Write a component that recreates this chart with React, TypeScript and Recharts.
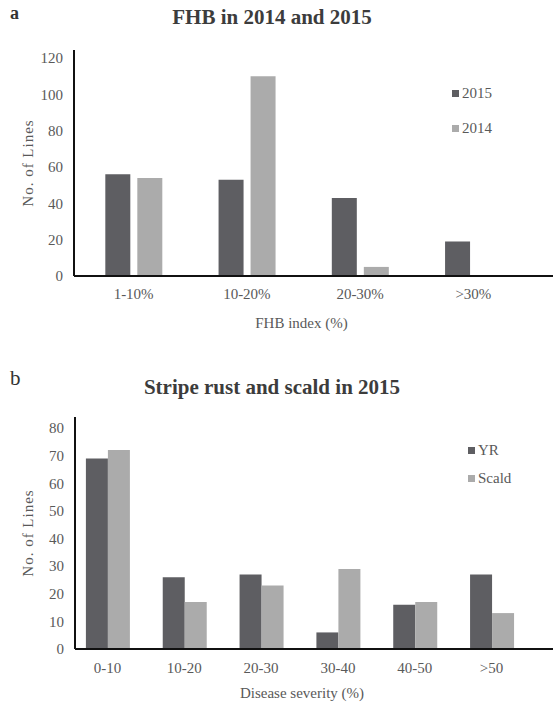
import { Bar, BarChart, XAxis, YAxis } from "recharts";

const fhbCategories = ["1-10%", "10-20%", "20-30%", ">30%"];
const fhb2015 = [56, 53, 43, 19];
const fhb2014 = [54, 110, 5, 0];
const fhbTicks = [0, 20, 40, 60, 80, 100, 120];

const severityCategories = ["0-10", "10-20", "20-30", "30-40", "40-50", ">50"];
const yrValues = [69, 26, 27, 6, 16, 27];
const scaldValues = [72, 17, 23, 29, 17, 13];
const severityTicks = [0, 10, 20, 30, 40, 50, 60, 70, 80];

const DARK = "#5e5e62";
const LIGHT = "#ababab";
const TEXT = "#595959";
const FONT = "Liberation Serif";

const fhbData = fhbCategories.map((name, i) => ({ name, y2015: fhb2015[i], y2014: fhb2014[i] }));
const severityData = severityCategories.map((name, i) => ({ name, yr: yrValues[i], scald: scaldValues[i] }));

function LegendBox({ items, gap, left, top }: { items: { label: string; color: string }[]; gap: number; left: number; top: number }) {
  return (
    <div style={{ position: "absolute", left, top, fontFamily: FONT, fontSize: 15, color: TEXT }}>
      {items.map((it) => (
        <div key={it.label} style={{ display: "flex", alignItems: "center", height: gap }}>
          <span style={{ width: 7, height: 7, background: it.color, marginRight: 3, display: "inline-block" }} />
          {it.label}
        </div>
      ))}
    </div>
  );
}

const tickStyle = { fill: TEXT, fontSize: 15, fontFamily: FONT };
const labelStyle = { fill: TEXT, fontSize: 15, fontFamily: FONT };
const yLabelStyle = { fill: TEXT, fontSize: 15, fontFamily: FONT, letterSpacing: 1 };

export default function App() {
  return (
    <div style={{ position: "absolute", left: 0, top: 0, width: 553, height: 703, background: "#fff", fontFamily: FONT, overflow: "hidden" }}>
      <div style={{ position: "absolute", left: 10, top: 3, fontSize: 18, fontWeight: "bold", color: "#333" }}>a</div>
      <div style={{ position: "absolute", left: 0, width: 553, top: 5, textAlign: "center", fontSize: 21, fontWeight: "bold", color: "#3c3c3c" }}>
        <span style={{ marginLeft: -9 }}>FHB in 2014 and 2015</span>
      </div>
      <div style={{ position: "absolute", left: 0, top: 0 }}>
        <BarChart width={553} height={340} data={fhbData} margin={{ top: 50, right: 0, bottom: 12, left: 24 }} barCategoryGap="25%" barGap={7}>
          <XAxis
            dataKey="name"
            padding={{ left: 3, right: 23 }}
            height={52}
            tickLine={false}
            tickSize={0}
            tickMargin={12}
            axisLine={{ stroke: "#111", strokeWidth: 2 }}
            tick={tickStyle}
            label={{ value: "FHB index (%)", position: "insideBottom", offset: 0, dx: -12, style: labelStyle }}
          />
          <YAxis
            width={50}
            domain={[0, 120]}
            ticks={fhbTicks}
            padding={{ top: 8, bottom: 0 }}
            tickLine={false}
            tickSize={0}
            tickMargin={11}
            axisLine={{ stroke: "#111", strokeWidth: 2 }}
            tick={tickStyle}
            label={{ value: "No. of Lines", angle: -90, position: "center", dx: -21, style: yLabelStyle }}
          />
          <Bar dataKey="y2015" name="2015" fill={DARK} isAnimationActive={false} />
          <Bar dataKey="y2014" name="2014" fill={LIGHT} isAnimationActive={false} />
        </BarChart>
      </div>
      <LegendBox left={452} top={76} gap={35} items={[{ label: "2015", color: DARK }, { label: "2014", color: LIGHT }]} />

      <div style={{ position: "absolute", left: 10, top: 366, fontSize: 21, color: "#333" }}>b</div>
      <div style={{ position: "absolute", left: 0, width: 553, top: 375, textAlign: "center", fontSize: 21, fontWeight: "bold", color: "#3c3c3c" }}>
        <span style={{ marginLeft: -9 }}>Stripe rust and scald in 2015</span>
      </div>
      <div style={{ position: "absolute", left: 0, top: 360 }}>
        <BarChart width={553} height={343} data={severityData} margin={{ top: 57, right: 0, bottom: 0, left: 25 }} barCategoryGap="22%" barGap={0}>
          <XAxis
            dataKey="name"
            padding={{ left: -6, right: 23 }}
            height={54}
            tickLine={false}
            tickSize={0}
            tickMargin={13}
            axisLine={{ stroke: "#111", strokeWidth: 2 }}
            tick={tickStyle}
            label={{ value: "Disease severity (%)", position: "insideBottom", offset: 0, dy: -5, dx: -12, style: labelStyle }}
          />
          <YAxis
            width={50}
            domain={[0, 80]}
            ticks={severityTicks}
            padding={{ top: 11, bottom: 0 }}
            tickLine={false}
            tickSize={0}
            tickMargin={11}
            axisLine={{ stroke: "#111", strokeWidth: 2 }}
            tick={tickStyle}
            label={{ value: "No. of Lines", angle: -90, position: "center", dx: -22, style: yLabelStyle }}
          />
          <Bar dataKey="yr" name="YR" fill={DARK} isAnimationActive={false} />
          <Bar dataKey="scald" name="Scald" fill={LIGHT} isAnimationActive={false} />
        </BarChart>
      </div>
      <LegendBox left={468} top={436} gap={28} items={[{ label: "YR", color: DARK }, { label: "Scald", color: LIGHT }]} />
    </div>
  );
}
